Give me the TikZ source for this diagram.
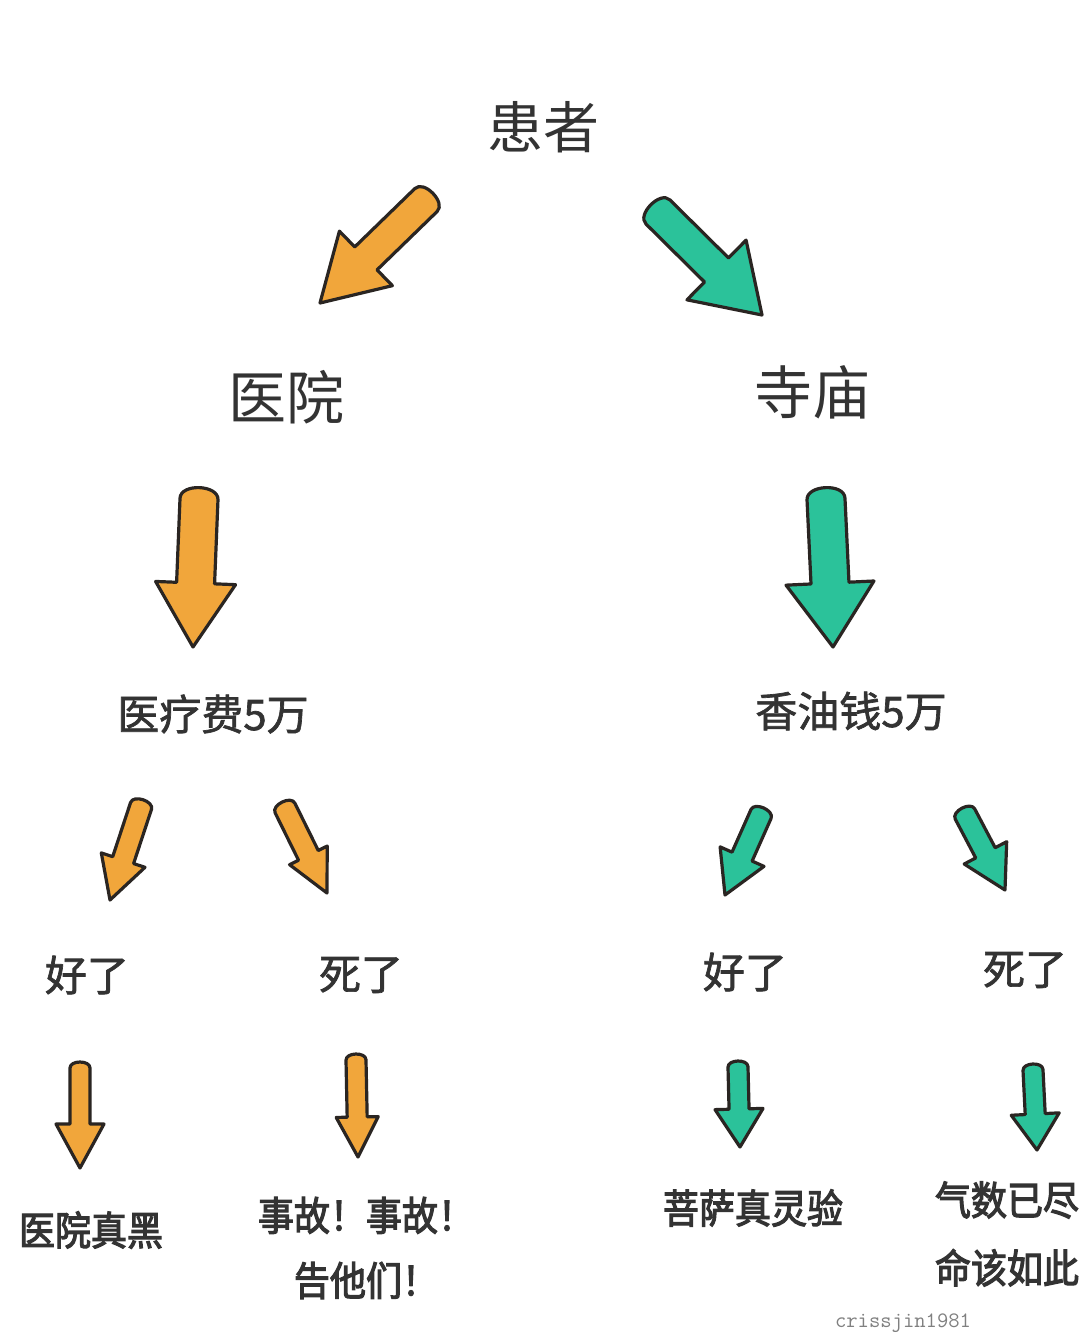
\documentclass[tikz,border=0pt]{standalone}
\usepackage{fontspec}
\usepackage{tikz}
\usetikzlibrary{calc}
\newfontfamily\cjk{Noto Sans CJK SC}
\newfontfamily\cjkm[FakeBold=1.6]{Noto Sans CJK SC}
\newfontfamily\cjkn[FakeStretch=0.9,FakeBold=2.8]{Noto Sans CJK SC}
\definecolor{orangefill}{HTML}{F1A63B}
\definecolor{tealfill}{HTML}{2BC29A}
\definecolor{outline}{HTML}{2A2522}
\definecolor{txt}{HTML}{333333}
% block arrow: [fill] {tail}{tip}{half shaft}{half head}{head length}
\newcommand{\fatarrow}[6][orangefill]{%
	\coordinate (fa-h) at ($(#3)!#6!(#2)$);
	\coordinate (fa-t) at ($(#2)!-0.8*#4!(#3)$);
	\draw[fill=#1, draw=outline, line width=1.6pt, line join=round]
		($(fa-h)!#4!-90:(#3)$) -- ($(#2)!#4!-90:(#3)$)
		.. controls ($(fa-t)!#4!-90:(#3)$) and ($(fa-t)!#4!90:(#3)$) .. ($(#2)!#4!90:(#3)$)
		-- ($(fa-h)!#4!90:(#3)$) -- ($(fa-h)!#5!90:(#3)$) -- (#3)
		-- ($(fa-h)!#5!-90:(#3)$) -- cycle;
}

\begin{document}
\begin{tikzpicture}[x=0.5pt,y=-0.5pt]
	\fill[white] (0,0) rectangle (1080,1334);
	\useasboundingbox (0,0) rectangle (1080,1334);
	
	\node[txt, font=\cjk\fontsize{28}{32}\selectfont] (0) at (543,127) {患者};
	\node[txt, font=\cjk\fontsize{29}{32}\selectfont] (1) at (286,397) {医院};
	\node[txt, font=\cjk\fontsize{29}{32}\selectfont] (2) at (812,392) {寺庙};
	
	\node[txt, font=\cjkm\fontsize{21}{24}\selectfont] (3) at (213,714) {医疗费5万};
	\node[txt, font=\cjkm\fontsize{21}{24}\selectfont] (4) at (851,711) {香油钱5万};
	
	\node[txt, font=\cjkm\fontsize{21}{24}\selectfont] (5) at (87,975) {好了};
	\node[txt, font=\cjkm\fontsize{21}{24}\selectfont] (6) at (361,975) {死了};
	\node[txt, font=\cjkm\fontsize{21}{24}\selectfont] (7) at (745,972) {好了};
	\node[txt, font=\cjkm\fontsize{21}{24}\selectfont] (8) at (1025,970) {死了};
	
	\node[txt, font=\cjkn\fontsize{20}{24}\selectfont] (9) at (91,1230) {医院真黑};
	\node[txt, font=\cjkn\fontsize{20}{32.5}\selectfont, align=center] (10) at (366,1248) {事故！事故！\\告他们！};
	\node[txt, font=\cjkn\fontsize{20}{24}\selectfont] (11) at (753,1208) {菩萨真灵验};
	\node[txt, font=\cjkn\fontsize{20}{34}\selectfont, align=center] (12) at (1007,1234) {气数已尽\\命该如此};
	
	\node[gray, font=\ttfamily\fontsize{11}{12}\selectfont, inner sep=1pt] (13) at (903,1323) {crissjin1981};
	
	% arrow ends
	\coordinate (a0) at (426,200); \coordinate (b0) at (320,303);
	\coordinate (a1) at (658,212); \coordinate (b1) at (762,315);
	\coordinate (a2) at (199,499); \coordinate (b2) at (193,647);
	\coordinate (a3) at (826,499); \coordinate (b3) at (833,647);
	\coordinate (a4) at (141,806); \coordinate (b4) at (110,900);
	\coordinate (a5) at (285,808); \coordinate (b5) at (327,893);
	\coordinate (a6) at (761,814); \coordinate (b6) at (725,895);
	\coordinate (a7) at (965,814); \coordinate (b7) at (1005,890);
	\coordinate (a8) at (80,1068); \coordinate (b8) at (80,1168);
	\coordinate (a9) at (356,1060); \coordinate (b9) at (358,1157);
	\coordinate (a10) at (738,1067); \coordinate (b10) at (740,1147);
	\coordinate (a11) at (1033,1070); \coordinate (b11) at (1037,1150);
	
	\fatarrow{a0}{b0}{8pt}{19pt}{32pt}
	\fatarrow[tealfill]{a1}{b1}{8.5pt}{21pt}{32pt}
	\fatarrow{a2}{b2}{9.5pt}{20pt}{32pt}
	\fatarrow[tealfill]{a3}{b3}{9.5pt}{22pt}{32pt}
	\fatarrow{a4}{b4}{5.5pt}{11.5pt}{21pt}
	\fatarrow{a5}{b5}{5.5pt}{10.5pt}{21pt}
	\fatarrow[tealfill]{a6}{b6}{5.5pt}{12pt}{21pt}
	\fatarrow[tealfill]{a7}{b7}{5.5pt}{12pt}{21pt}
	\fatarrow{a8}{b8}{5pt}{12pt}{22pt}
	\fatarrow{a9}{b9}{5pt}{10.5pt}{20pt}
	\fatarrow[tealfill]{a10}{b10}{5pt}{12pt}{19pt}
	\fatarrow[tealfill]{a11}{b11}{5pt}{12pt}{18pt}
\end{tikzpicture}
\end{document}
